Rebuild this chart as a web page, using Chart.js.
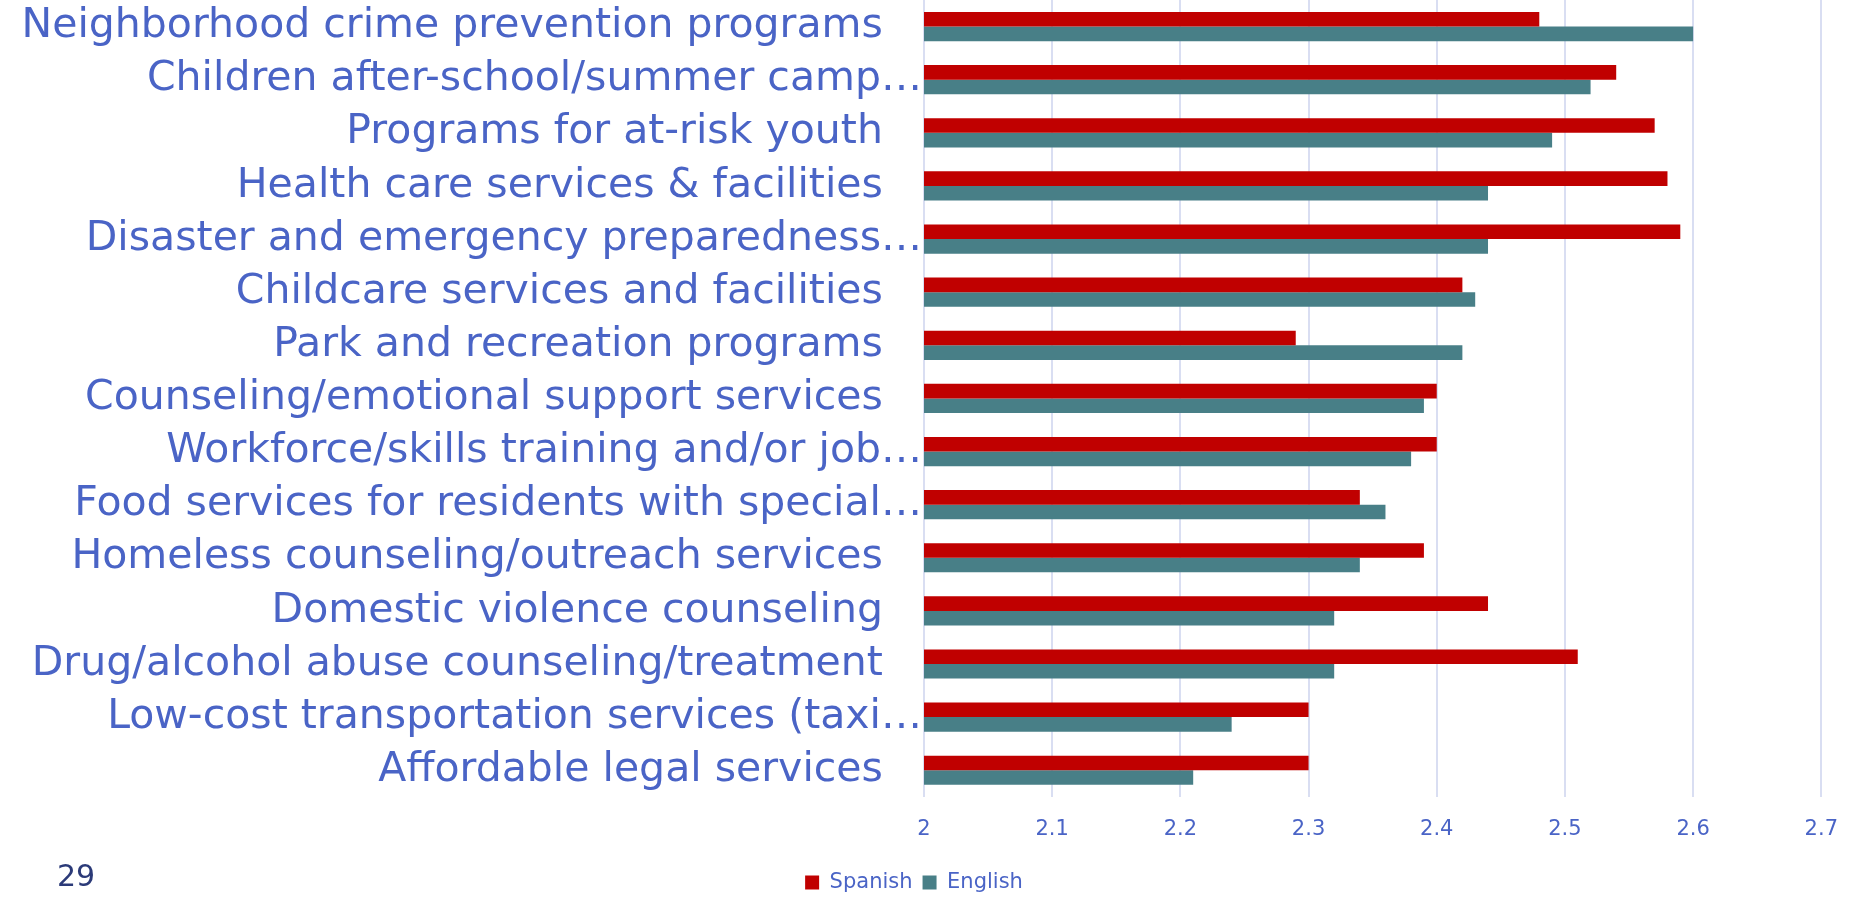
<!DOCTYPE html>
<html>
<head>
    <title>Services ranking</title>
    <script src="https://cdn.jsdelivr.net/npm/chart.js"></script>
    <style>
        body { margin: 0; background: #fff; }
        #wrap { position: relative; width: 1858px; height: 897px; }
        #pageNum { position: absolute; left: 57px; top: 858px; font: 30px "DejaVu Sans", sans-serif; color: #2B3A78; }
    </style>
</head>
<body>
    <div id="wrap">
        <canvas id="barChart" width="1858" height="897"></canvas>
        <div id="pageNum">29</div>
    </div>

    <script>
        // 类别（从上到下）
        const categories = [
            'Neighborhood crime prevention programs   ',
            'Children after-school/summer camp…',
            'Programs for at-risk youth   ',
            'Health care services & facilities   ',
            'Disaster and emergency preparedness…',
            'Childcare services and facilities   ',
            'Park and recreation programs   ',
            'Counseling/emotional support services   ',
            'Workforce/skills training and/or job…',
            'Food services for residents with special…',
            'Homeless counseling/outreach services   ',
            'Domestic violence counseling   ',
            'Drug/alcohol abuse counseling/treatment   ',
            'Low-cost transportation services (taxi…',
            'Affordable legal services   '
        ];

        const spanishValues = [2.48, 2.54, 2.57, 2.58, 2.59, 2.42, 2.29, 2.40, 2.40, 2.34, 2.39, 2.44, 2.51, 2.30, 2.30];
        const englishValues = [2.60, 2.52, 2.49, 2.44, 2.44, 2.43, 2.42, 2.39, 2.38, 2.36, 2.34, 2.32, 2.32, 2.24, 2.21];

        const axisMin = 2;
        const axisMax = 2.7;
        const axisStep = 0.1;

        const labelColor = '#4A64C6';
        const font = '"DejaVu Sans", sans-serif';

        const ctx = document.getElementById('barChart').getContext('2d');
        const barChart = new Chart(ctx, {
            type: 'bar',
            data: {
                labels: categories,
                datasets: [{
                    label: 'Spanish',
                    data: spanishValues,
                    backgroundColor: '#C00000',
                    categoryPercentage: 0.55,
                    barPercentage: 1.0
                }, {
                    label: 'English',
                    data: englishValues,
                    backgroundColor: '#487F87',
                    categoryPercentage: 0.55,
                    barPercentage: 1.0
                }]
            },
            options: {
                indexAxis: 'y',
                responsive: false,
                animation: false,
                layout: { padding: { top: 0, right: 30, bottom: -6, left: 0 } },
                plugins: {
                    tooltip: { enabled: false },
                    legend: {
                        position: 'bottom',
                        labels: {
                            boxWidth: 14,
                            boxHeight: 14,
                            color: labelColor,
                            font: { family: font, size: 21 },
                            padding: 10
                        }
                    }
                },
                scales: {
                    x: {
                        min: axisMin,
                        max: axisMax,
                        ticks: {
                            stepSize: axisStep,
                            color: labelColor,
                            font: { family: font, size: 21 },
                            padding: 20,
                            callback: v => Number(v.toFixed(1)).toString()
                        },
                        grid: { color: '#D9DEF2', lineWidth: 2, drawTicks: false },
                        border: { display: false }
                    },
                    y: {
                        ticks: {
                            color: labelColor,
                            font: { family: font, size: 41 },
                            padding: -6,
                            autoSkip: false
                        },
                        grid: { display: false },
                        border: { color: '#D9DEF2', width: 2 },
                        afterFit: scale => {
                            scale.width = 924;
                            scale.paddingTop = 0;
                            scale.paddingBottom = 0;
                        }
                    }
                }
            }
        });
    </script>
</body>
</html>
